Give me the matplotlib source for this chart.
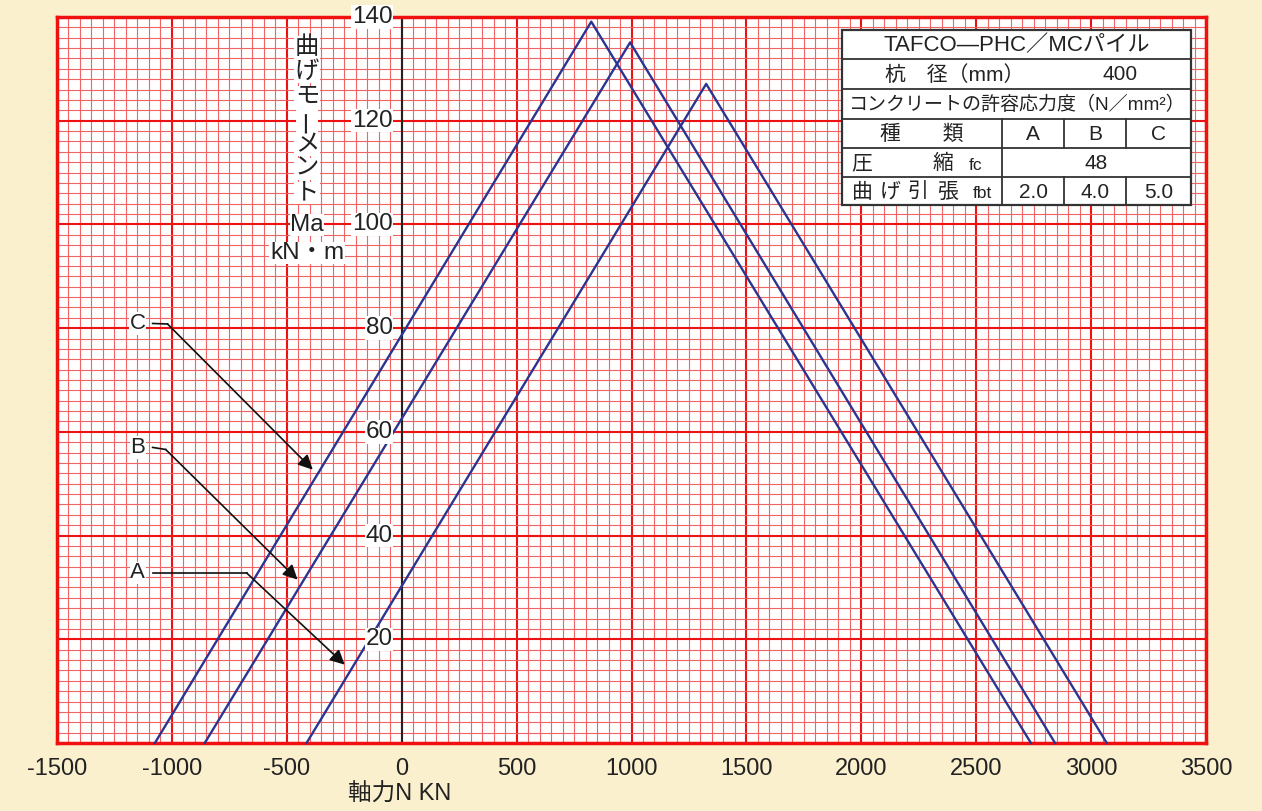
import matplotlib.pyplot as plt
from matplotlib.patches import Rectangle

plt.rcParams['font.family'] = ['Liberation Sans', 'Noto Sans CJK JP', 'DejaVu Sans']

# triangles: x at left zero, peak, right zero / moment values
A_x = [-414, 1325, 3068]
A_y = [0, 127.1, 0]
B_x = [-857, 994, 2843]
B_y = [0, 135.1, 0]
C_x = [-1074, 825, 2738]
C_y = [0, 139.1, 0]

x_ticks = [-1500, -1000, -500, 0, 500, 1000, 1500, 2000, 2500, 3000, 3500]
y_ticks = [20, 40, 60, 80, 100, 120, 140]

# leader labels: name, text pos, bend pos, arrow tip
leaders = [
    ('C', (-1149, 80.9), (-1019, 80.8), (-387, 52.7)),
    ('B', (-1149, 57.0), (-1027, 56.6), (-453, 31.5)),
    ('A', (-1149, 32.8), (-675, 32.8), (-248, 15.1)),
]

ylabel_chars = ['曲', 'げ', 'モ', 'ー', 'メ', 'ン', 'ト', 'Ma', 'kN・m']
xlabel = '軸力N KN'

tbl_title = 'TAFCO—PHC／MCパイル'
tbl_dia = ['杭　径（mm）', '400']
tbl_conc = 'コンクリートの許容応力度（N／mm²）'
tbl_types = ['A', 'B', 'C']
tbl_fc = '48'
tbl_fbt = ['2.0', '4.0', '5.0']

bg = '#FAF0CE'
blue = '#2B3590'

fig = plt.figure(figsize=(12.62, 8.11), dpi=100, facecolor=bg)
W, H = 1262, 811
ax = fig.add_axes([57 / W, 1 - 743 / H, (1206 - 57) / W, (743 - 17) / H])
ax.set_facecolor('white')
ax.set_xlim(-1500, 3500)
ax.set_ylim(0, 140)

# graph paper grid
ax.set_xticks(x_ticks)
ax.set_xticklabels([str(v) for v in x_ticks])
ax.set_xticks(range(-1500, 3501, 50), minor=True)
ax.set_yticks(y_ticks)
ax.set_yticks(range(0, 141, 2), minor=True)
ax.grid(which='minor', color='#F06464', lw=0.8)
ax.grid(which='major', color='#EE1111', lw=1.5)
ax.set_axisbelow(True)
ax.tick_params(which='both', length=0)
ax.tick_params(axis='x', labelsize=17, pad=11, colors='#222222')
ax.set_yticklabels([])
for s in ax.spines.values():
    s.set_color('#F01010')
    s.set_linewidth(2.5)

ax.axvline(0, color='#222222', lw=1.5, zorder=2)

for v in y_ticks:
    ax.text(-40, v, str(v), ha='right', va='center', fontsize=17.5, color='#222222',
            bbox=dict(facecolor='white', edgecolor='none', pad=0.5), clip_on=False, zorder=5)

for xs, ys in [(A_x, A_y), (B_x, B_y), (C_x, C_y)]:
    ax.plot(xs, ys, color=blue, lw=1.7, zorder=3, clip_on=False)

for name, tpos, bend, tip in leaders:
    ax.text(tpos[0], tpos[1], name, ha='center', va='center', fontsize=16, color='#222222',
            bbox=dict(facecolor='white', edgecolor='none', pad=0.5), zorder=5)
    ax.plot([tpos[0] + 65, bend[0]], [tpos[1], bend[1]], color='#111111', lw=1.2, zorder=4)
    ax.annotate('', xy=tip, xytext=bend,
                arrowprops=dict(arrowstyle='-|>', color='#111111', lw=1.2,
                                mutation_scale=22, shrinkA=0, shrinkB=0), zorder=4)

# overlay in pixel coordinates for labels and the table
ov = fig.add_axes([0, 0, 1, 1], facecolor='none')
ov.set_xlim(0, W)
ov.set_ylim(H, 0)
ov.axis('off')

ys_lab = [48, 72, 97, 121, 145, 169, 193, 225, 253]
for ch, y in zip(ylabel_chars, ys_lab):
    ov.text(307, y, ch, ha='center', va='center', fontsize=17.5, color='#222222',
            rotation=90 if ch == 'ー' else 0,
            bbox=dict(facecolor='white', edgecolor='none', pad=0.3))

ov.text(400, 795, xlabel, ha='center', va='center', fontsize=17, color='#222222')

# table
L, R = 842, 1191
rows = [30, 59, 89, 119, 148, 177, 205]
c1, c2, c3 = 1002, 1064, 1126
lc = '#333333'
ov.add_patch(Rectangle((L, rows[0]), R - L, rows[-1] - rows[0], facecolor='white',
                       edgecolor=lc, lw=1.6))
for y in rows[1:-1]:
    ov.plot([L, R], [y, y], color=lc, lw=1.3)
ov.plot([c1, c1], [rows[3], rows[6]], color=lc, lw=1.3)
for c in (c2, c3):
    ov.plot([c, c], [rows[3], rows[4]], color=lc, lw=1.3)
    ov.plot([c, c], [rows[5], rows[6]], color=lc, lw=1.3)

mid = lambda i: (rows[i] + rows[i + 1]) / 2 + 1
tk = dict(ha='center', va='center', color='#222222')
ov.text((L + R) / 2, mid(0), tbl_title, fontsize=16, **tk)
ov.text(955, mid(1), tbl_dia[0], fontsize=15, **tk)
ov.text(1120, mid(1), tbl_dia[1], fontsize=15, **tk)
ov.text((L + R) / 2 + 1, mid(2), tbl_conc, fontsize=13.7, **tk)
ov.text(922, mid(3), '種　　類', fontsize=15, **tk)
col_c = [(c1 + c2) / 2, (c2 + c3) / 2, (c3 + R) / 2]
for cx, t in zip(col_c, tbl_types):
    ov.text(cx, mid(3), t, fontsize=15, **tk)
ov.text(862, mid(4), '圧', fontsize=15, **tk)
ov.text(943, mid(4), '縮', fontsize=15, **tk)
ov.text(976, mid(4) + 2, 'fc', fontsize=12.5, **tk)
ov.text((c1 + R) / 2, mid(4), tbl_fc, fontsize=15, **tk)
for cx, ch in zip([862, 890, 918, 947], '曲げ引張'):
    ov.text(cx, mid(5), ch, fontsize=15, **tk)
ov.text(982, mid(5) + 2, 'fbt', fontsize=12.5, **tk)
for cx, t in zip(col_c, tbl_fbt):
    ov.text(cx, mid(5), t, fontsize=15, **tk)

fig.savefig('out.png', dpi=100, facecolor=bg)
